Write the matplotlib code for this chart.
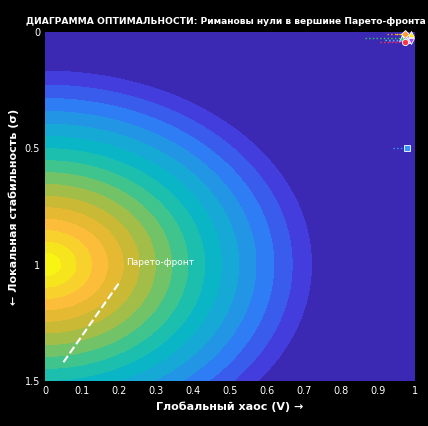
import numpy as np
import matplotlib.pyplot as plt
from matplotlib.colors import LinearSegmentedColormap

# optimality surface: peak at chaos=0, stability=1
peak_x, peak_y = 0.0, 1.0
reach_x, reach_y = 0.78, 0.9

# points near the Pareto corner
pt_x = [0.99, 0.975, 0.965, 0.98, 0.99, 0.975, 0.98]
pt_y = [0.01, 0.01, 0.025, 0.035, 0.04, 0.045, 0.5]
pt_marker = ['^', 'D', '^', '^', 'v', 'o', 's']
pt_color = ['#ffee00', '#ff9933', '#33cc66', '#33dddd', '#aa44ff', '#ff3344', '#3399ff']
pt_line = [0.04, 0.05, 0.1, 0.06, 0.06, 0.07, 0.04]

front_x = [0.05, 0.2]
front_y = [1.42, 1.08]

parula = LinearSegmentedColormap.from_list('parula', [
    '#3a1fa0', '#4342e6', '#2f7bf5', '#1aa4dc', '#06bbc1', '#3dc48e',
    '#95c04f', '#d9b72e', '#fdbd3b', '#f5e11f', '#f9fb0e'])

x = np.linspace(0, 1, 300)
y = np.linspace(0, 1.5, 300)
X, Y = np.meshgrid(x, y)
D = np.sqrt(((X - peak_x) / reach_x) ** 2 + ((Y - peak_y) / reach_y) ** 2)
Z = np.clip(1 - D, 0, 1) ** 1.1

fig = plt.figure(figsize=(4.28, 4.26), dpi=100, facecolor='black')
ax = fig.add_axes([0.105, 0.106, 0.864, 0.819])
ax.set_facecolor('black')
ax.contourf(X, Y, Z, levels=np.linspace(0, 1, 18), cmap=parula)

for xi, yi, m, c, l in zip(pt_x, pt_y, pt_marker, pt_color, pt_line):
    ax.plot([xi - l, xi], [yi, yi], ':', color=c, lw=1)
    ax.plot(xi, yi, m, color=c, ms=4.5, mec='white', mew=0.6, clip_on=False)

ax.plot(front_x, front_y, '--', color='white', lw=1.5)
ax.text(0.22, 1.0, 'Парето-фронт', color='white', fontsize=6.5)

ax.set_xlim(0, 1)
ax.set_ylim(1.5, 0)
ax.set_xticks([0, 0.1, 0.2, 0.3, 0.4, 0.5, 0.6, 0.7, 0.8, 0.9, 1])
ax.set_xticklabels(['0', '0.1', '0.2', '0.3', '0.4', '0.5', '0.6', '0.7', '0.8', '0.9', '1'])
ax.set_yticks([0, 0.5, 1, 1.5])
ax.set_yticklabels(['0', '0.5', '1', '1.5'])
ax.tick_params(colors='white', labelsize=7, length=0)
for s in ax.spines.values():
    s.set_visible(False)
ax.set_xlabel('Глобальный хаос (V) →', color='white', fontsize=8, fontweight='bold')
ax.set_ylabel('← Локальная стабильность (σ)', color='white', fontsize=8, fontweight='bold')
fig.text(0.995, 0.938, 'ДИАГРАММА ОПТИМАЛЬНОСТИ: Римановы нули в вершине Парето-фронта',
         color='white', fontsize=6.6, fontweight='bold', ha='right', va='bottom')

fig.savefig('out.png', dpi=100, facecolor='black')
